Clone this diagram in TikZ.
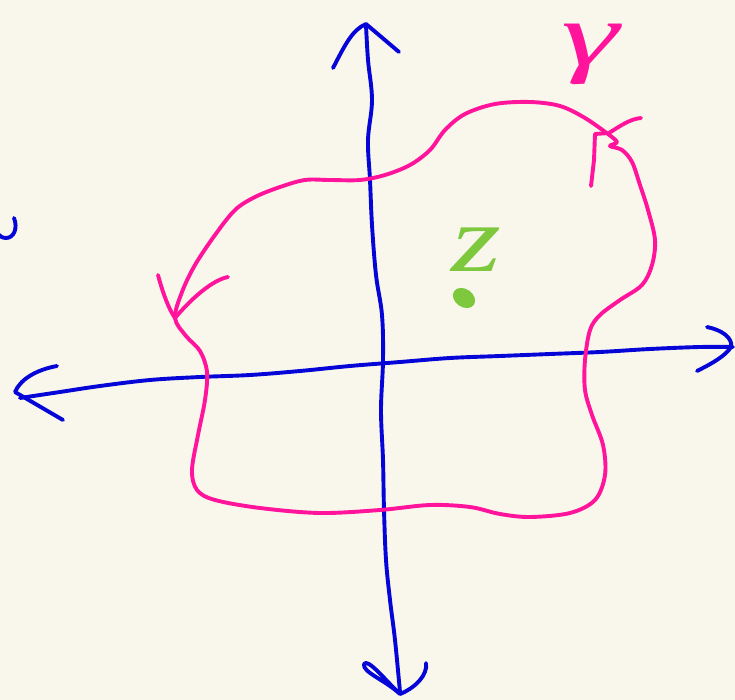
\documentclass[tikz,border=0pt]{standalone}
\usepackage{fontspec}
\newfontfamily\lblfont{Liberation Serif}
\usetikzlibrary{calc}
\definecolor{bgcream}{RGB}{249,247,236}
\definecolor{inkblue}{RGB}{5,5,215}
\definecolor{inkpink}{RGB}{255,20,155}
\definecolor{inkgreen}{RGB}{125,200,60}
\tikzset{
  pen/.style={line width=3.9pt, line cap=round, line join=round},
  bluepen/.style={pen, draw=inkblue},
  pinkpen/.style={pen, draw=inkpink},
}
\begin{document}
\begin{tikzpicture}[x=1pt,y=-1pt]
\fill[bgcream] (0,0) rectangle (735,700);
\useasboundingbox (0,0) rectangle (735,700);
% vertical axis
\draw[bluepen] plot[smooth, tension=0.6] coordinates {(366,25) (368,60) (372,100) (368,140) (370,180) (372,225) (376,275) (382,315) (383,360) (381,410) (383,460) (384,510) (386,560) (390,600) (395,640) (400,692)};
\coordinate (topv) at (366,24);
\draw[bluepen] (333,68) .. controls (345,45) and (352,30) .. (topv) -- (399,52);
\coordinate (botv) at (400,694);
\draw[bluepen] (botv) .. controls (385,680) and (362,672) .. (364,664) .. controls (368,658) and (385,680) .. (botv);
\draw[bluepen] (botv) .. controls (415,688) and (428,675) .. (426,663);
% horizontal axis
\draw[bluepen] plot[smooth, tension=0.6] coordinates {(20,398) (60,392) (100,386) (150,380) (200,377) (250,375) (300,371) (350,366) (400,362) (450,358) (500,356) (550,354) (600,352) (650,349) (700,347) (733,347)};
\coordinate (leftv) at (15,392);
\draw[bluepen] (57,366) .. controls (35,370) and (20,380) .. (leftv) -- (63,420);
\coordinate (rightv) at (731,347);
\draw[bluepen] (707,327) .. controls (722,330) and (733,338) .. (rightv);
\draw[bluepen] (697,371) .. controls (715,362) and (726,355) .. (rightv);
% fragment at left edge
\draw[bluepen] (14,218) .. controls (18,228) and (14,238) .. (6,238) .. controls (2,238) and (0,236) .. (-2,234);
% pink curve
\draw[pinkpen] plot[smooth, tension=0.55] coordinates {(608,134) (585,118) (560,106) (530,102) (495,104) (465,114) (445,130) (430,150) (410,165) (385,175) (360,180) (330,180) (305,180) (280,187) (255,197) (235,210) (215,235) (195,265) (182,292) (175,318) (186,336) (200,351) (207,372) (205,400) (198,435) (192,470) (197,490) (215,500) (260,508) (320,513) (380,510) (430,505) (470,507) (500,514) (530,517) (570,513) (595,500) (605,475) (603,445) (592,415) (585,390) (585,360) (590,330) (600,315) (620,300) (642,285) (652,265) (655,240) (648,210) (640,185) (632,162) (622,150) (610,146) (617,142) (608,134)};
% pink arrowheads
\coordinate (parrA) at (609,133);
\draw[pinkpen] (591,186) -- (594,160) -- (595,134) -- (parrA) .. controls (620,126) and (630,119) .. (641,118);
\coordinate (parrB) at (175,318);
\draw[pinkpen] (158,275) .. controls (162,290) and (168,308) .. (parrB);
\draw[pinkpen] (parrB) .. controls (190,300) and (212,280) .. (228,277);
% labels
\node[text=inkpink, font=\lblfont\itshape\fontsize{86}{86}\selectfont, inner sep=0pt] (gam) at (590,54) {\scalebox{1.7}[1.05]{γ}};
\node[text=inkgreen, font=\lblfont\itshape\fontsize{95}{95}\selectfont, inner sep=0pt] (zed) at (476,250) {\scalebox{1.35}[1]{z}};
\fill[inkgreen, rotate around={-35:(464,298)}] (464,298) ellipse [x radius=12, y radius=9];
\end{tikzpicture}
\end{document}
